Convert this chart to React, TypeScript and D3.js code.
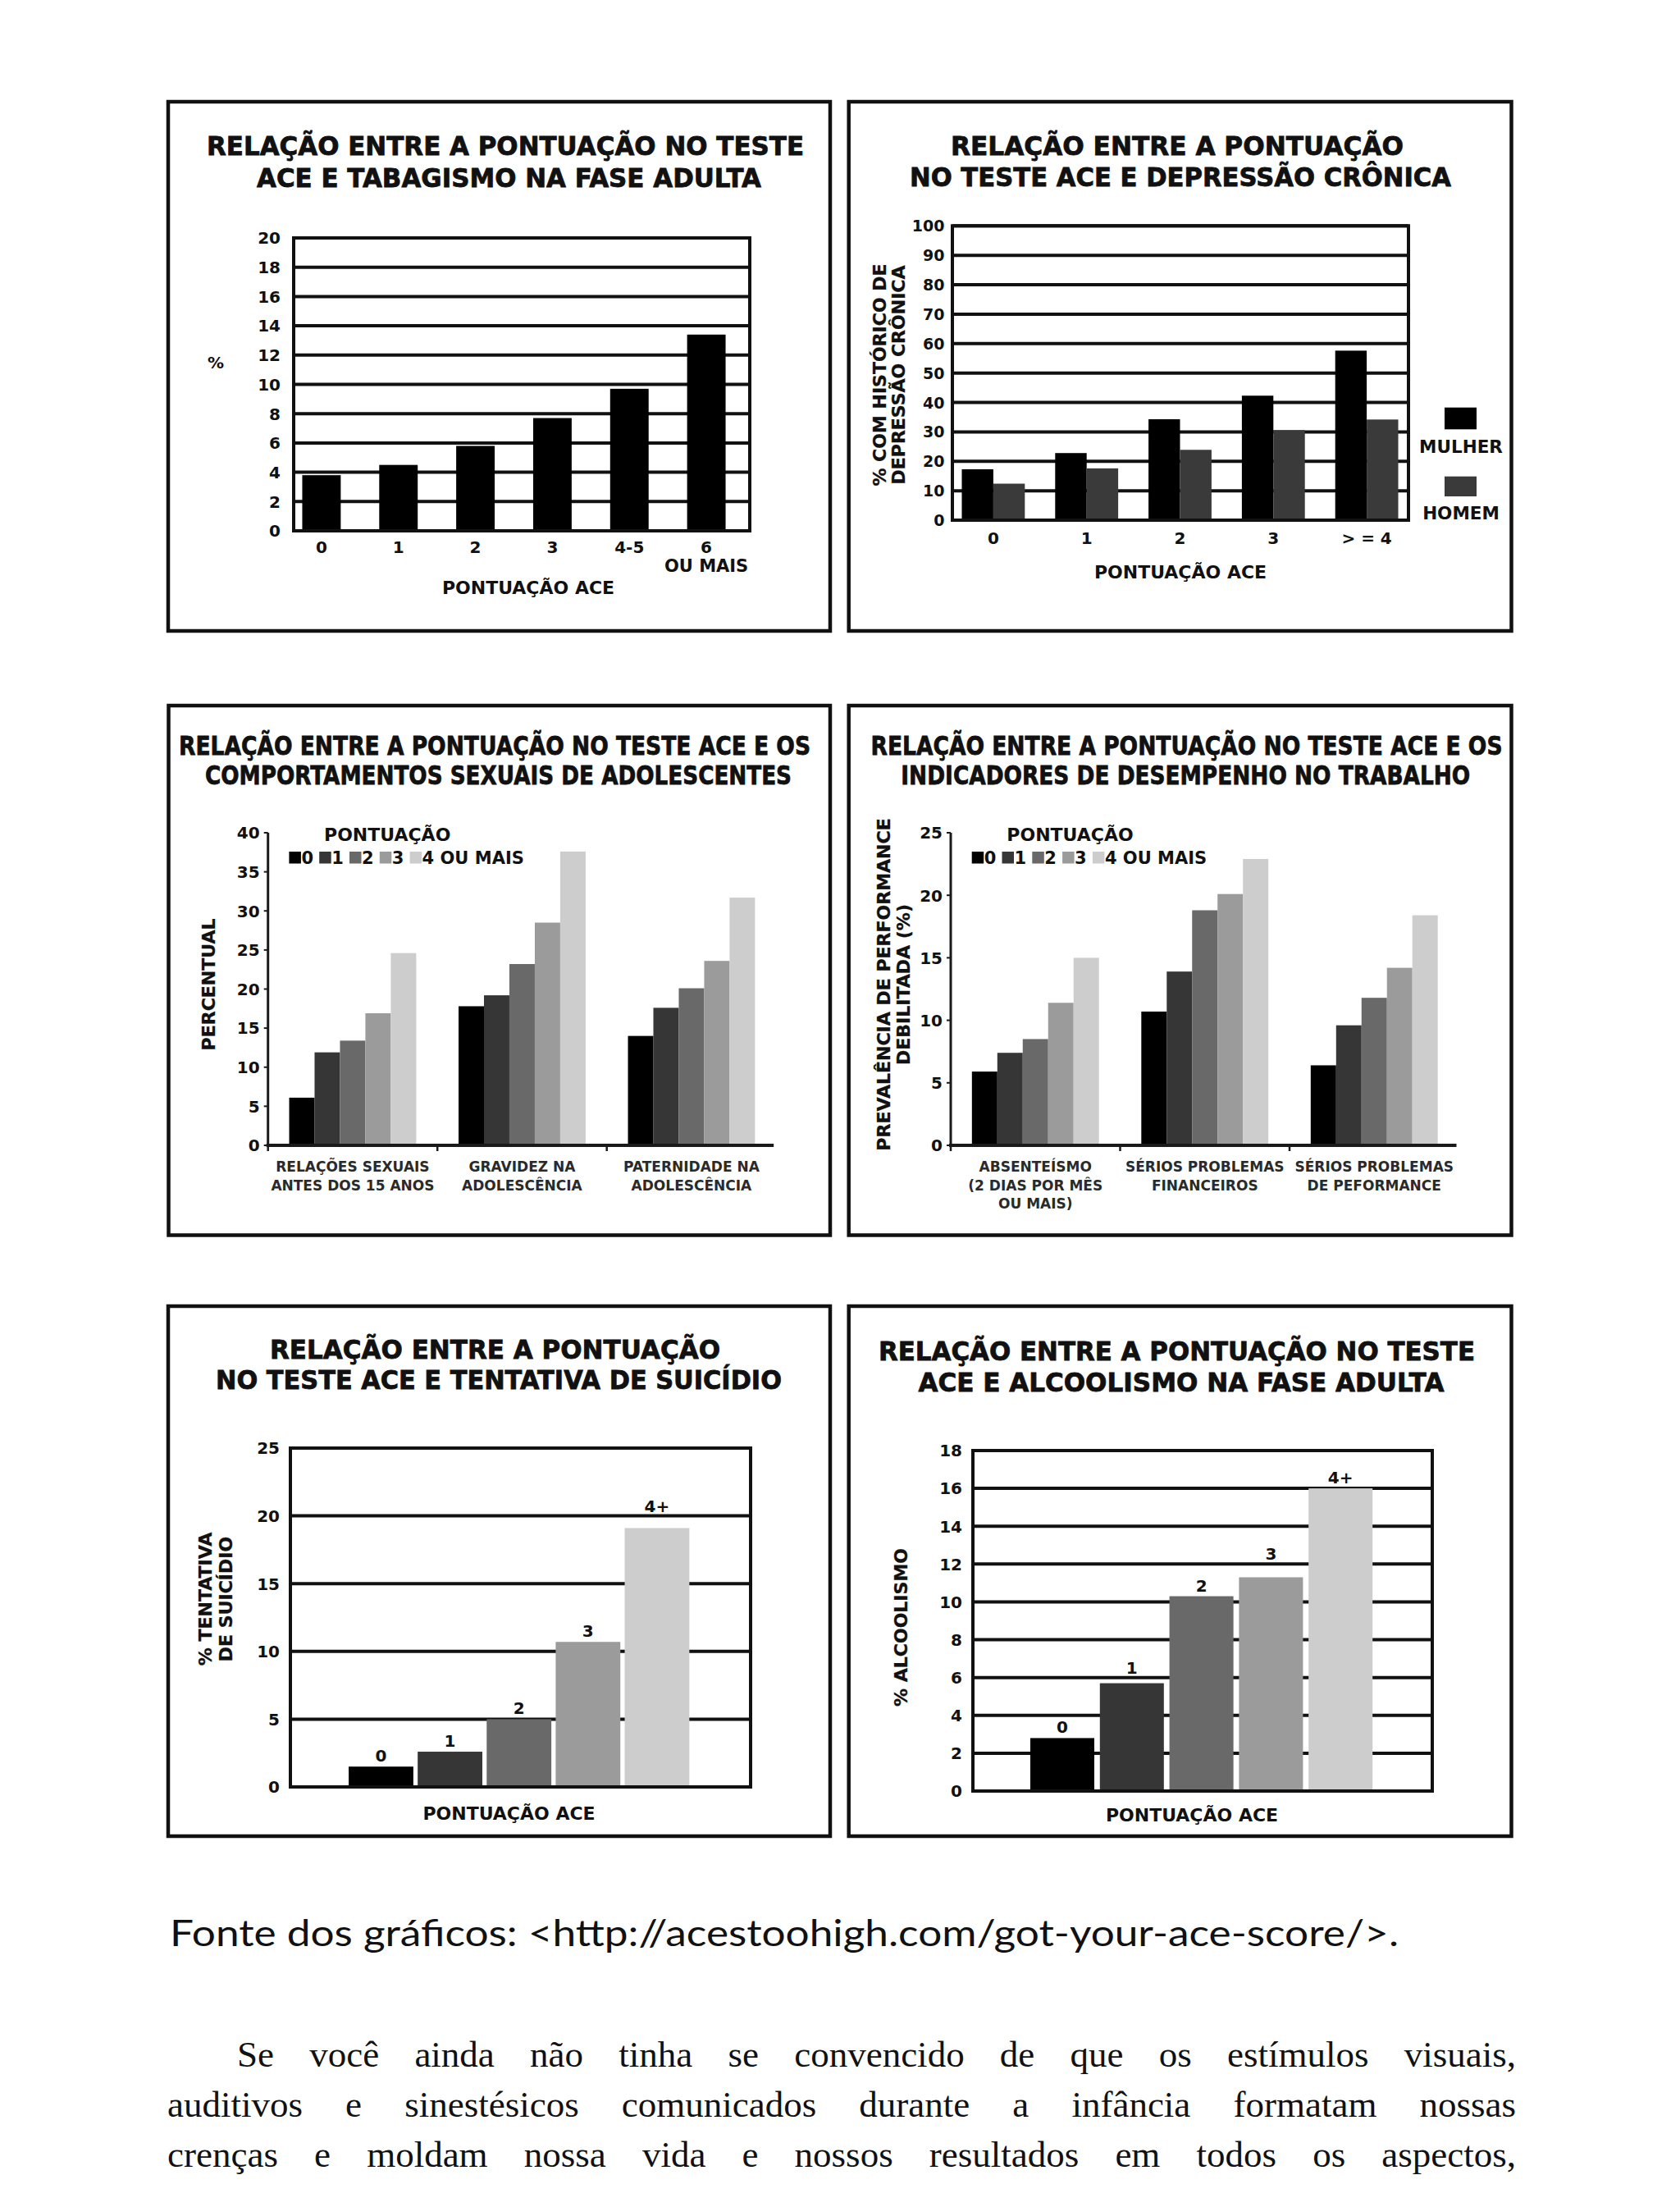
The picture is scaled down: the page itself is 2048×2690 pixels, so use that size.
import React from "react";
import * as d3 from "d3";

const SANS = "'DejaVu Sans', Verdana, sans-serif";
const SERIF = "'Liberation Serif', 'Times New Roman', serif";
const NOTE_FONT = "Lato, 'Open Sans', sans-serif";

// ---------------- data ----------------
const smokingCategories = ["0", "1", "2", "3", "4-5", "6"];
const smokingSecondLine = ["", "", "", "", "", "OU MAIS"];
const smokingValues = [3.8, 4.5, 5.8, 7.7, 9.7, 13.4];
const smokingTicks = [0, 2, 4, 6, 8, 10, 12, 14, 16, 18, 20];

const depressionCategories = ["0", "1", "2", "3", "> = 4"];
const depressionSeries = ["MULHER", "HOMEM"];
const depressionWomen = [17.3, 22.8, 34.3, 42.3, 57.6];
const depressionMen = [12.4, 17.6, 23.9, 30.6, 34.2];
const depressionTicks = [0, 10, 20, 30, 40, 50, 60, 70, 80, 90, 100];

const scoreKeys = ["0", "1", "2", "3", "4 OU MAIS"];

const sexualCategories = [
  ["RELAÇÕES SEXUAIS", "ANTES DOS 15 ANOS"],
  ["GRAVIDEZ NA", "ADOLESCÊNCIA"],
  ["PATERNIDADE NA", "ADOLESCÊNCIA"],
];
const sexualValues = [
  [6.1, 11.9, 13.4, 16.9, 24.6],
  [17.8, 19.2, 23.2, 28.5, 37.6],
  [14.0, 17.6, 20.1, 23.6, 31.7],
];
const sexualTicks = [0, 5, 10, 15, 20, 25, 30, 35, 40];

const workCategories = [
  ["ABSENTEÍSMO", "(2 DIAS POR MÊS", "OU MAIS)"],
  ["SÉRIOS PROBLEMAS", "FINANCEIROS"],
  ["SÉRIOS PROBLEMAS", "DE PEFORMANCE"],
];
const workValues = [
  [5.9, 7.4, 8.5, 11.4, 15.0],
  [10.7, 13.9, 18.8, 20.1, 22.9],
  [6.4, 9.6, 11.8, 14.2, 18.4],
];
const workTicks = [0, 5, 10, 15, 20, 25];

const suicideCategories = ["0", "1", "2", "3", "4+"];
const suicideValues = [1.5, 2.6, 5.0, 10.7, 19.1];
const suicideTicks = [0, 5, 10, 15, 20, 25];

const alcoholCategories = ["0", "1", "2", "3", "4+"];
const alcoholValues = [2.8, 5.7, 10.3, 11.3, 16.0];
const alcoholTicks = [0, 2, 4, 6, 8, 10, 12, 14, 16, 18];

const sourceNote = "Fonte dos gráficos: <http://acestoohigh.com/got-your-ace-score/>.";
const paragraphLines = [
  "Se você ainda não tinha se convencido de que os estímulos visuais,",
  "auditivos e sinestésicos comunicados durante a infância formatam nossas",
  "crenças e moldam nossa vida e nossos resultados em todos os aspectos,",
];

// ---------------- styles ----------------
const scoreColors = ["#000000", "#363636", "#696969", "#9b9b9b", "#cdcdcd"];
const depressionColors = ["#000000", "#3a3a3a"];
const INK = "#111";

// ---------------- helpers ----------------
let measureCtx: CanvasRenderingContext2D | null = null;
function measure(text: string, font: string): number {
  if (!measureCtx) measureCtx = document.createElement("canvas").getContext("2d");
  if (!measureCtx) return text.length * 20;
  measureCtx.font = font;
  return measureCtx.measureText(text).width;
}

function Frame({ x0, y0, x1, y1 }: { x0: number; y0: number; x1: number; y1: number }) {
  return <rect x={x0} y={y0} width={x1 - x0} height={y1 - y0} fill="none" stroke={INK} strokeWidth={4.5} />;
}

type TitleLine = { text: string; x: number; w: number; y: number };
function Title({ lines }: { lines: TitleLine[] }) {
  return (
    <g>
      {lines.map((l, i) => (
        <text
          key={i}
          x={l.x}
          y={l.y}
          textLength={l.w}
          lengthAdjust="spacingAndGlyphs"
          fontFamily={SANS}
          fontWeight={700}
          fontSize={32}
          fill={INK}
          stroke={INK}
          strokeWidth={0.8}
        >
          {l.text}
        </text>
      ))}
    </g>
  );
}

function RotatedLines({ lines, cy, size = 22 }: { lines: { text: string; x: number }[]; cy: number; size?: number }) {
  return (
    <g>
      {lines.map((l, i) => (
        <text
          key={i}
          transform={`translate(${l.x},${cy}) rotate(-90)`}
          textAnchor="middle"
          fontFamily={SANS}
          fontWeight={700}
          fontSize={size}
          fill={INK}
          stroke={INK}
          strokeWidth={0.3}
        >
          {l.text}
        </text>
      ))}
    </g>
  );
}

// ---------------- panel 1: smoking ----------------
function SmokingPanel() {
  const plot = { l: 358, r: 914, t: 290, b: 647 };
  const y = d3.scaleLinear().domain([0, 20]).range([plot.b, plot.t]);
  const x = d3.scaleBand<string>().domain(smokingCategories).range([345, 908]).paddingInner(0.5).paddingOuter(0.25);
  return (
    <g>
      <Frame x0={205} y0={124} x1={1012} y1={769} />
      <Title
        lines={[
          { text: "RELAÇÃO ENTRE A PONTUAÇÃO NO TESTE", x: 252, w: 728, y: 189 },
          { text: "ACE E TABAGISMO NA FASE ADULTA", x: 313, w: 615, y: 228 },
        ]}
      />
      {smokingTicks.map((t) => (
        <line key={t} x1={plot.l} x2={plot.r} y1={y(t)} y2={y(t)} stroke={INK} strokeWidth={4} />
      ))}
      {smokingValues.map((v, i) => (
        <rect
          key={i}
          x={x(smokingCategories[i])}
          y={y(v)}
          width={x.bandwidth()}
          height={y(0) - y(v)}
          fill="#000"
        />
      ))}
      <rect x={plot.l} y={plot.t} width={plot.r - plot.l} height={plot.b - plot.t} fill="none" stroke={INK} strokeWidth={4} />
      {smokingTicks.map((t) => (
        <text key={t} x={plot.l - 16} y={y(t) + 7.3} textAnchor="end" fontFamily={SANS} fontWeight={700} fontSize={20} fill={INK}>
          {t}
        </text>
      ))}
      {smokingCategories.map((c, i) => (
        <g key={c}>
          <text x={(x(c) as number) + x.bandwidth() / 2} y={674} textAnchor="middle" fontFamily={SANS} fontWeight={700} fontSize={20} fill={INK}>
            {c}
          </text>
          {smokingSecondLine[i] && (
            <text x={(x(c) as number) + x.bandwidth() / 2} y={696.5} textAnchor="middle" fontFamily={SANS} fontWeight={700} fontSize={21} fill={INK}>
              {smokingSecondLine[i]}
            </text>
          )}
        </g>
      ))}
      <text x={644} y={724} textAnchor="middle" fontFamily={SANS} fontWeight={700} fontSize={22} fill={INK}>
        PONTUAÇÃO ACE
      </text>
      <text x={263} y={449} textAnchor="middle" fontFamily={SANS} fontWeight={700} fontSize={20} fill={INK}>
        %
      </text>
    </g>
  );
}

// ---------------- panel 2: depression ----------------
function DepressionPanel() {
  const plot = { l: 1161, r: 1717, t: 275.3, b: 634 };
  const y = d3.scaleLinear().domain([0, 100]).range([plot.b, plot.t]);
  const x0 = d3.scaleBand<string>().domain(depressionCategories).range([1154, 1723]).paddingInner(0.325).paddingOuter(0.1625);
  const x1 = d3.scaleBand<string>().domain(depressionSeries).range([0, x0.bandwidth()]);
  const series = [depressionWomen, depressionMen];
  const legendY = [496.7, 580.7];
  const legendText = [551.7, 633.3];
  return (
    <g>
      <Frame x0={1034.7} y0={124} x1={1842.5} y1={769} />
      <Title
        lines={[
          { text: "RELAÇÃO ENTRE A PONTUAÇÃO", x: 1159, w: 552, y: 188.5 },
          { text: "NO TESTE ACE E DEPRESSÃO CRÔNICA", x: 1109, w: 660, y: 226.5 },
        ]}
      />
      {depressionTicks.map((t) => (
        <line key={t} x1={plot.l} x2={plot.r} y1={y(t)} y2={y(t)} stroke={INK} strokeWidth={4} />
      ))}
      {depressionCategories.map((c, i) =>
        depressionSeries.map((s, j) => {
          const v = series[j][i];
          return (
            <rect
              key={c + s}
              x={(x0(c) as number) + (x1(s) as number)}
              y={y(v)}
              width={x1.bandwidth()}
              height={y(0) - y(v)}
              fill={depressionColors[j]}
            />
          );
        })
      )}
      <rect x={plot.l} y={plot.t} width={plot.r - plot.l} height={plot.b - plot.t} fill="none" stroke={INK} strokeWidth={4} />
      {depressionTicks.map((t) => (
        <text key={t} x={plot.l - 9.5} y={y(t) + 7} textAnchor="end" fontFamily={SANS} fontWeight={700} fontSize={19} fill={INK}>
          {t}
        </text>
      ))}
      {depressionCategories.map((c) => (
        <text key={c} x={(x0(c) as number) + x0.bandwidth() / 2} y={663} textAnchor="middle" fontFamily={SANS} fontWeight={700} fontSize={20} fill={INK}>
          {c}
        </text>
      ))}
      <text x={1439} y={705} textAnchor="middle" fontFamily={SANS} fontWeight={700} fontSize={22} fill={INK}>
        PONTUAÇÃO ACE
      </text>
      <RotatedLines
        cy={457}
        lines={[
          { text: "% COM HISTÓRICO DE", x: 1080 },
          { text: "DEPRESSÃO CRÔNICA", x: 1103 },
        ]}
      />
      {depressionSeries.map((s, j) => (
        <g key={s}>
          <rect x={1761} y={legendY[j]} width={39} height={j === 0 ? 26.6 : 24.3} fill={depressionColors[j]} />
          <text x={1781} y={legendText[j]} textAnchor="middle" fontFamily={SANS} fontWeight={700} fontSize={21.5} fill={INK}>
            {s}
          </text>
        </g>
      ))}
    </g>
  );
}

// ---------------- panels 3 & 4: grouped ----------------
type GroupedProps = {
  frame: { x0: number; y0: number; x1: number; y1: number };
  title: TitleLine[];
  originX: number;
  categories: string[][];
  values: number[][];
  ticks: number[];
  yTitle: { text: string; x: number }[];
};
function GroupedPanel({ frame, title, originX, categories, values, ticks, yTitle }: GroupedProps) {
  const yMax = ticks[ticks.length - 1];
  const y = d3.scaleLinear().domain([0, yMax]).range([1396, 1015]);
  const idx = categories.map((_, i) => String(i));
  const slot = 206.5;
  const xo = d3.scaleBand<string>().domain(idx).range([originX, originX + slot * idx.length]).paddingInner(0.25).paddingOuter(0.125);
  const xi = d3.scaleBand<string>().domain(scoreKeys).range([0, xo.bandwidth()]);
  return (
    <g>
      <Frame {...frame} />
      <Title lines={title} />
      {values.map((row, i) =>
        row.map((v, j) => (
          <rect
            key={i + "-" + j}
            x={(xo(String(i)) as number) + (xi(scoreKeys[j]) as number)}
            y={y(v)}
            width={xi.bandwidth()}
            height={y(0) - y(v)}
            fill={scoreColors[j]}
          />
        ))
      )}
      <line x1={originX} x2={originX} y1={y(yMax)} y2={y(0) + 2} stroke="#1a1a1a" strokeWidth={3} />
      <line x1={originX - 2} x2={originX + slot * idx.length - 3} y1={y(0)} y2={y(0)} stroke="#1a1a1a" strokeWidth={4} />
      {ticks.map((t) => (
        <g key={t}>
          <line x1={originX - 5} x2={originX} y1={y(t)} y2={y(t)} stroke="#1a1a1a" strokeWidth={2} />
          <text x={originX - 10} y={y(t) + 7.3} textAnchor="end" fontFamily={SANS} fontWeight={700} fontSize={20} fill={INK}>
            {t}
          </text>
        </g>
      ))}
      {idx.map((k, i) => (
        <line key={k} x1={originX + slot * i} x2={originX + slot * i} y1={y(0)} y2={y(0) + 7} stroke="#1a1a1a" strokeWidth={2.5} />
      ))}
      {categories.map((lines, i) =>
        lines.map((l, k) => (
          <text
            key={i + "-" + k}
            x={(xo(String(i)) as number) + xo.bandwidth() / 2}
            y={1428 + k * 22.5}
            textAnchor="middle"
            fontFamily={SANS}
            fontWeight={700}
            fontSize={17}
            fill="#2a2a2a"
          >
            {l}
          </text>
        ))
      )}
      <text x={originX + 145.5} y={1025} textAnchor="middle" fontFamily={SANS} fontWeight={700} fontSize={22} fill={INK}>
        PONTUAÇÃO
      </text>
      {scoreKeys.map((k, j) => {
        const lx = originX + 25.7 + j * 36.8;
        return (
          <g key={k}>
            <rect x={lx} y={1038} width={14.5} height={14.5} fill={scoreColors[j]} />
            <text x={lx + 15} y={1053} fontFamily={SANS} fontWeight={700} fontSize={21} fill={INK}>
              {k}
            </text>
          </g>
        );
      })}
      <RotatedLines cy={1200} lines={yTitle} />
    </g>
  );
}

// ---------------- panels 5 & 6: labelled bars ----------------
type LabeledProps = {
  frame: { x0: number; y0: number; x1: number; y1: number };
  title: TitleLine[];
  plot: { l: number; r: number; t: number; b: number };
  categories: string[];
  values: number[];
  ticks: number[];
  bandRange: [number, number];
  padInner: number;
  yTitle: { text: string; x: number }[];
  yTitleCy: number;
  xTitle: { x: number; y: number };
};
function LabeledPanel({ frame, title, plot, categories, values, ticks, bandRange, padInner, yTitle, yTitleCy, xTitle }: LabeledProps) {
  const yMax = ticks[ticks.length - 1];
  const y = d3.scaleLinear().domain([0, yMax]).range([plot.b, plot.t]);
  const x = d3.scaleBand<string>().domain(categories).range(bandRange).paddingInner(padInner).paddingOuter(padInner / 2);
  const capH = 14.6;
  const labelBase = (v: number) => {
    let base = y(v) - 6;
    for (const t of ticks) {
      const gy = y(t);
      if (gy > base - capH - 3 && gy < base + 3) base = gy - 5;
    }
    return base;
  };
  return (
    <g>
      <Frame {...frame} />
      <Title lines={title} />
      {ticks.map((t) => (
        <line key={t} x1={plot.l} x2={plot.r} y1={y(t)} y2={y(t)} stroke={INK} strokeWidth={4} />
      ))}
      {values.map((v, i) => (
        <rect key={i} x={x(categories[i])} y={y(v)} width={x.bandwidth()} height={y(0) - y(v)} fill={scoreColors[i]} />
      ))}
      <rect x={plot.l} y={plot.t} width={plot.r - plot.l} height={plot.b - plot.t} fill="none" stroke={INK} strokeWidth={4} />
      {values.map((v, i) => (
        <text
          key={i}
          x={(x(categories[i]) as number) + x.bandwidth() / 2}
          y={labelBase(v)}
          textAnchor="middle"
          fontFamily={SANS}
          fontWeight={700}
          fontSize={20}
          fill={INK}
        >
          {categories[i]}
        </text>
      ))}
      {ticks.map((t) => (
        <text key={t} x={plot.l - 13} y={y(t) + 7.3} textAnchor="end" fontFamily={SANS} fontWeight={700} fontSize={20} fill={INK}>
          {t}
        </text>
      ))}
      <text x={xTitle.x} y={xTitle.y} textAnchor="middle" fontFamily={SANS} fontWeight={700} fontSize={22} fill={INK}>
        PONTUAÇÃO ACE
      </text>
      <RotatedLines cy={yTitleCy} lines={yTitle} />
    </g>
  );
}

// ---------------- text block ----------------
function JustifiedLine({ text, x0, x1, y }: { text: string; x0: number; x1: number; y: number }) {
  const size = 45;
  const font = `${size}px 'Liberation Serif'`;
  const words = text.split(" ");
  const widths = words.map((w) => measure(w, font));
  const total = widths.reduce((a, b) => a + b, 0);
  const gap = (x1 - x0 - total) / (words.length - 1);
  let cx = x0;
  const xs = widths.map((w) => {
    const p = cx;
    cx += w + gap;
    return p;
  });
  return (
    <text y={y} fontFamily={SERIF} fontSize={size} fill="#111">
      {words.map((w, i) => (
        <tspan key={i} x={xs[i]}>
          {w}
        </tspan>
      ))}
    </text>
  );
}

export default function App() {
  return (
    <svg
      width={2048}
      height={2690}
      viewBox="0 0 2048 2690"
      style={{ position: "absolute", left: 0, top: 0, background: "#fff" }}
    >
      <rect x={0} y={0} width={2048} height={2690} fill="#fff" />
      <SmokingPanel />
      <DepressionPanel />
      <GroupedPanel
        frame={{ x0: 205.5, y0: 860, x1: 1012, y1: 1505.5 }}
        title={[
          { text: "RELAÇÃO ENTRE A PONTUAÇÃO NO TESTE ACE E OS", x: 218, w: 770, y: 920 },
          { text: "COMPORTAMENTOS SEXUAIS DE ADOLESCENTES", x: 250, w: 715, y: 956 },
        ]}
        originX={326.7}
        categories={sexualCategories}
        values={sexualValues}
        ticks={sexualTicks}
        yTitle={[{ text: "PERCENTUAL", x: 262 }]}
      />
      <GroupedPanel
        frame={{ x0: 1034.7, y0: 860, x1: 1842.5, y1: 1505.5 }}
        title={[
          { text: "RELAÇÃO ENTRE A PONTUAÇÃO NO TESTE ACE E OS", x: 1061.5, w: 770, y: 920 },
          { text: "INDICADORES DE DESEMPENHO NO TRABALHO", x: 1098.3, w: 694, y: 956 },
        ]}
        originX={1159}
        categories={workCategories}
        values={workValues}
        ticks={workTicks}
        yTitle={[
          { text: "PREVALÊNCIA DE PERFORMANCE", x: 1085 },
          { text: "DEBILITADA (%)", x: 1109 },
        ]}
      />
      <LabeledPanel
        frame={{ x0: 205, y0: 1592, x1: 1012, y1: 2238 }}
        title={[
          { text: "RELAÇÃO ENTRE A PONTUAÇÃO", x: 329, w: 549, y: 1656 },
          { text: "NO TESTE ACE E TENTATIVA DE SUICÍDIO", x: 263, w: 690, y: 1693 },
        ]}
        plot={{ l: 354, r: 915, t: 1765, b: 2178 }}
        categories={suicideCategories}
        values={suicideValues}
        ticks={suicideTicks}
        bandRange={[422.4, 843]}
        padInner={0.063}
        yTitle={[
          { text: "% TENTATIVA", x: 258 },
          { text: "DE SUICÍDIO", x: 283 },
        ]}
        yTitleCy={1949}
        xTitle={{ x: 620.5, y: 2218 }}
      />
      <LabeledPanel
        frame={{ x0: 1034.7, y0: 1592, x1: 1842.5, y1: 2238 }}
        title={[
          { text: "RELAÇÃO ENTRE A PONTUAÇÃO NO TESTE", x: 1071, w: 727, y: 1658 },
          { text: "ACE E ALCOOLISMO NA FASE ADULTA", x: 1119.4, w: 641, y: 1696 },
        ]}
        plot={{ l: 1186, r: 1746, t: 1768, b: 2183 }}
        categories={alcoholCategories}
        values={alcoholValues}
        ticks={alcoholTicks}
        bandRange={[1252.6, 1676.6]}
        padInner={0.08}
        yTitle={[{ text: "% ALCOOLISMO", x: 1106 }]}
        yTitleCy={1983.5}
        xTitle={{ x: 1453, y: 2220 }}
      />
      <text x={207} y={2372} textLength={1498} lengthAdjust="spacingAndGlyphs" fontFamily={NOTE_FONT} fontSize={44} fill="#111">
        {sourceNote}
      </text>
      <JustifiedLine text={paragraphLines[0]} x0={289} x1={1848} y={2519} />
      <JustifiedLine text={paragraphLines[1]} x0={204} x1={1848} y={2580} />
      <JustifiedLine text={paragraphLines[2]} x0={204} x1={1848} y={2641} />
    </svg>
  );
}
